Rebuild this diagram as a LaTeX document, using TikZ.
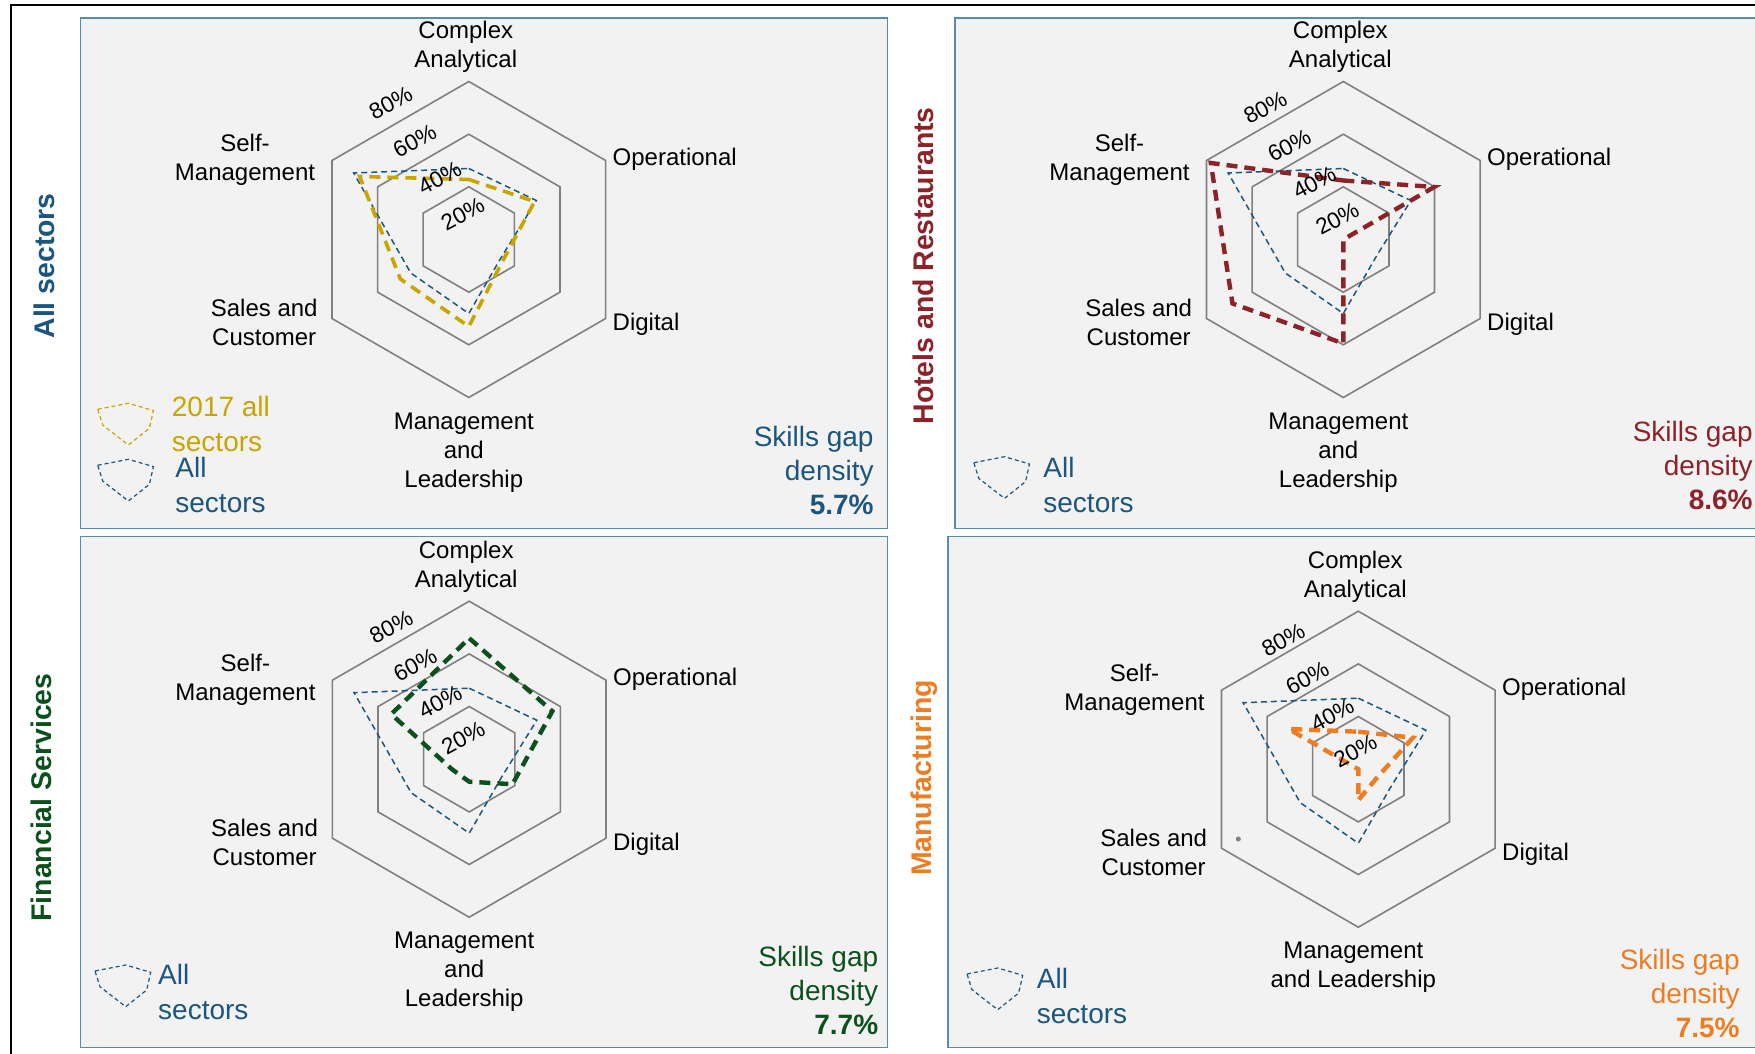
\documentclass[tikz,border=0pt]{standalone}
\usepackage{fontspec}
\setmainfont{Liberation Sans}
\definecolor{blueS}{RGB}{28,86,126}
\definecolor{panelbd}{RGB}{84,141,180}
\definecolor{panelbg}{RGB}{242,242,242}
\definecolor{gridgray}{RGB}{128,128,128}
\definecolor{yel}{RGB}{201,165,0}
\definecolor{redS}{RGB}{140,35,42}
\definecolor{greenS}{RGB}{12,80,28}
\definecolor{orangeS}{RGB}{236,125,34}
\tikzset{
 panel/.style={draw=panelbd, fill=panelbg, line width=0.7pt},
 gridhex/.style={draw=gridgray, line width=0.8pt},
 allser/.style={draw=blueS, line width=0.75pt, dash pattern=on 3pt off 2pt},
 thickser/.style={line width=2.2pt, dash pattern=on 5.5pt off 3.5pt},
 axlab/.style={font=\fontsize{12}{14.5}\selectfont, align=center, inner sep=0pt, text=black},
 pct/.style={font=\fontsize{11.3}{13}\selectfont, rotate=28, inner sep=0pt},
 legtxt/.style={font=\fontsize{14}{17.5}\selectfont, align=left, anchor=west, inner sep=0pt},
 dens/.style={font=\fontsize{14}{17}\selectfont, align=right, anchor=east, inner sep=0pt},
 side/.style={font=\fontsize{14.2}{17}\selectfont\bfseries, rotate=90, inner sep=0pt},
 legicon/.style={line width=0.6pt, dash pattern=on 2pt off 1.5pt},
}
\newcommand\myradargrid[2]{%
 \begin{scope}[shift={(#1,#2)}]
  \foreach \r in {52.7,105.3,158}{\draw[gridhex] (-90:\r) -- (-30:\r) -- (30:\r) -- (90:\r) -- (150:\r) -- (210:\r) -- cycle;}
 \end{scope}}
\newcommand\myradarline[9]{%
 \draw[#1, shift={(#2,#3)}] (-90:#4) -- (-30:#5) -- (30:#6) -- (90:#7) -- (150:#8) -- (210:#9) -- cycle;}
\newcommand\mylegicon[4]{%
 \draw[legicon, #1, shift={(#2,#3)}] (0,6) -- (30.7,0) -- (55.7,7.3) -- (51.7,25) -- (30.7,41.7) -- (5,21.7) -- cycle;
 \coordinate (#4) at (#2,#3);}
% cx, cy, prefix, ML text, ML offset, pct dx, pct dy
\newcommand\myaxlabels[7]{%
 \node[axlab] (#3ca) at ({#1-3},{#2-192.5}) {Complex\\Analytical};
 \node[axlab, anchor=west] (#3op) at ({#1+143.5},{#2-79.8}) {Operational};
 \node[axlab, anchor=west] (#3dg) at ({#1+143.5},{#2+85.2}) {Digital};
 \node[axlab] (#3ml) at ({#1-5},{#2+#5}) {#4};
 \node[axlab] (#3sc) at ({#1-204.6},{#2+83}) {Sales and\\Customer};
 \node[axlab] (#3sm) at ({#1-223.8},{#2-79.8}) {Self-\\Management};
 \node[pct] (#3pa) at ({#1-6+#6},{#2-21+#7}) {20\%};
 \node[pct] (#3pb) at ({#1-29+#6},{#2-57+#7}) {40\%};
 \node[pct] (#3pc) at ({#1-54+#6},{#2-94+#7}) {60\%};
 \node[pct] (#3pd) at ({#1-78+#6},{#2-132+#7}) {80\%};
}
\begin{document}
\begin{tikzpicture}[x=0.5pt,y=-0.5pt]
\useasboundingbox (0,0) rectangle (1755,1054);
\fill[white] (0,0) rectangle (1755,1054);
\draw[black, line width=1pt] (10.5,1070) -- (10.5,5) -- (1770,5);
% panels
\draw[panel] (80.6,17.9) rectangle (887.6,528.3);
\draw[panel] (954.8,17.9) rectangle (1775,528.3);
\draw[panel] (80.6,536.3) rectangle (887.6,1047.7);
\draw[panel] (948,536.7) rectangle (1775,1047.7);
% grids
\myradargrid{468.8}{239.5}
\myradargrid{1343.3}{239.5}
\myradargrid{469.2}{759.2}
\myradargrid{1358.3}{769.2}
% series panel 1
\myradarline{allser}{468.8}{239.5}{71}{78}{37}{74}{67}{133}
\myradarline{thickser, draw=yel, line width=1.8pt}{468.8}{239.5}{60}{76}{40}{87}{79}{126}
% panel 2
\myradarline{allser}{1343.3}{239.5}{71}{78}{37}{74}{67}{133}
\myradarline{thickser, draw=redS}{1343.3}{239.5}{59}{105}{0}{104}{128}{153}
% panel 3
\myradarline{allser}{469.2}{759.2}{71}{78}{37}{74}{67}{133}
\myradarline{thickser, draw=greenS}{469.2}{759.2}{121}{96}{50}{22.5}{20}{90}
% panel 4
\myradarline{allser}{1358.3}{769.2}{71}{78}{37}{74}{67}{133}
\myradarline{thickser, draw=orangeS}{1358.3}{769.2}{37.5}{63}{20}{31}{0}{80.5}
\fill[gridgray] (1238.3,839) circle (2.5);
% axis labels
\myaxlabels{468.8}{239.5}{p1}{Management\\and\\Leadership}{213}{0}{-4.5}
\myaxlabels{1343.3}{239.5}{p2}{Management\\and\\Leadership}{213}{0}{0}
\myaxlabels{469.2}{759.2}{p3}{Management\\and\\Leadership}{213}{0}{0}
\myaxlabels{1358.3}{769.2}{p4}{Management\\and Leadership}{198.5}{3}{2.5}
% side titles
\node[side, text=blueS] (t1) at (44.8,265.8) {All sectors};
\node[side, text=redS] (t2) at (923.4,265.8) {Hotels and Restaurants};
\node[side, text=greenS] (t3) at (41.4,797.5) {Financial Services};
\node[side, text=orangeS] (t4) at (924.5,778) {Manufacturing};
% legends
\mylegicon{draw=yel}{97.7}{403.3}{li1}
\node[legtxt, text=yel] (lt1) at (171.5,424.2) {2017 all\\sectors};
\mylegicon{draw=blueS}{97.7}{459.3}{li2}
\node[legtxt, text=blueS] (lt2) at (175,485.3) {All\\sectors};
\mylegicon{draw=blueS}{973.8}{456.7}{li3}
\node[legtxt, text=blueS] (lt3) at (1043,485) {All\\sectors};
\mylegicon{draw=blueS}{95}{965}{li4}
\node[legtxt, text=blueS] (lt4) at (157.8,992.3) {All\\sectors};
\mylegicon{draw=blueS}{967}{968}{li5}
\node[legtxt, text=blueS] (lt5) at (1036.5,996.2) {All\\sectors};
% density
\node[dens, text=blueS] (d1) at (874,470.3) {Skills gap\\density\\\textbf{5.7\%}};
\node[dens, text=redS] (d2) at (1753,465.5) {Skills gap\\density\\\textbf{8.6\%}};
\node[dens, text=greenS] (d3) at (878.6,990.8) {Skills gap\\density\\\textbf{7.7\%}};
\node[dens, text=orangeS] (d4) at (1740,993) {Skills gap\\density\\\textbf{7.5\%}};
\end{tikzpicture}
\end{document}
